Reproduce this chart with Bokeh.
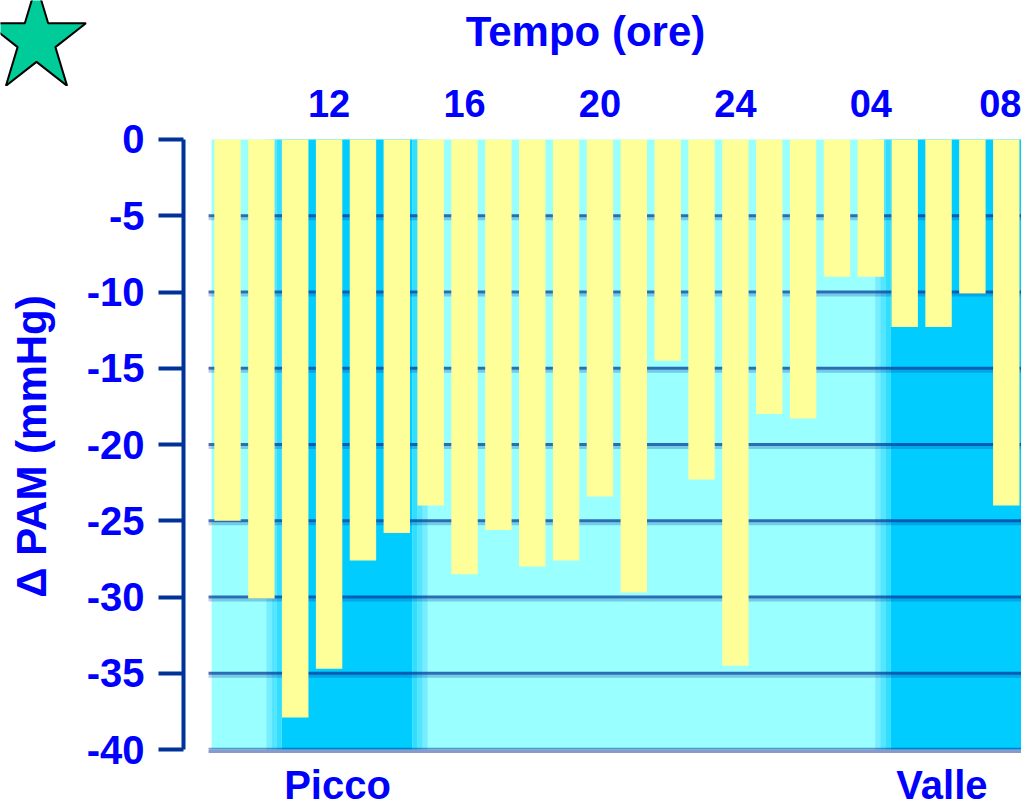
import math
from bokeh.plotting import figure
from bokeh.layouts import column
from bokeh.models import FixedTicker, LinearAxis, Range1d, ColumnDataSource
from bokeh.core.properties import value
from bokeh.embed import file_html
from bokeh.resources import INLINE

# ---------------- data ----------------
hours = [9, 10, 11, 12, 13, 14, 15, 16, 17, 18, 19, 20, 21, 22, 23, 24,
         25, 26, 27, 28, 29, 30, 31, 32]
delta_pam = [-25.0, -30.1, -37.9, -34.7, -27.6, -25.8, -24.0, -28.5,
             -25.6, -28.0, -27.6, -23.4, -29.7, -14.5, -22.3, -34.5,
             -18.0, -18.3, -9.0, -9.0, -12.3, -12.3, -10.1, -24.0]
hour_ticks = [12, 16, 20, 24, 28, 32]
hour_tick_labels = ["12", "16", "20", "24", "04", "08"]
y_ticks = [0, -5, -10, -15, -20, -25, -30, -35, -40]
y_tick_labels = ["0", "-5", "-10", "-15", "-20", "-25", "-30", "-35", "-40"]
grid_levels = [-5, -10, -15, -20, -25, -30, -35]
y_floor = -40
picco_span = (10.6, 14.46)
valle_span = (28.58, 33.0)
region_label_x = [12.25, 30.1]
region_labels = ["Picco", "Valle"]
panel_start = 8.53
panel_end = 33.0
x_title = "Tempo (ore)"
y_title = "\u0394 PAM (mmHg)"

# ---------------- styles ----------------
FONT = "Liberation Sans"
BLUE = "#0000FF"
NAVY = "#003399"
LIGHT = "#99FFFF"
DARK = "#00CCFF"
BAR = "#FFFF99"
W, H = 1021, 809
TOP_H = 86        # header strip height
OVERLAP = 16      # main chart starts this many px above the strip's bottom

# ---------------- header strip (star + time title) ----------------
top = figure(width=W, height=TOP_H, x_range=Range1d(0, W), y_range=Range1d(TOP_H, 0),
             x_axis_location=None, y_axis_location=None,
             output_backend="svg", toolbar_location=None,
             min_border=0, min_border_left=0, min_border_right=0,
             min_border_top=0, min_border_bottom=0)
top.frame_align = False
top.outline_line_color = None
top.xgrid.visible = False
top.ygrid.visible = False

cx, cy, rx, ry, k = 36, 40, 52, 56, 0.382
sxs, sys_ = [], []
for i in range(10):
    ang = math.radians(90 - 36 * i)
    f = 1.0 if i % 2 == 0 else k
    sxs.append(cx + rx * f * math.cos(ang))
    sys_.append(cy - ry * f * math.sin(ang))
top.patch(sxs, sys_, fill_color="#00CC99", line_color="black", line_width=2)
top.text(x=[585], y=[31], text=[x_title], text_align="center", text_baseline="alphabetic",
         text_font=value(FONT), text_font_style="bold", text_font_size="42px",
         text_color=BLUE)

# ---------------- main chart ----------------
MH = H - TOP_H + OVERLAP
y0_px = 139 - (TOP_H - OVERLAP)          # pixel of value 0 inside main canvas
p = figure(width=W, height=MH,
           x_range=Range1d(7.70, 32.45), y_range=Range1d(-40.39, 0.131),
           x_axis_location="above", y_axis_location="left",
           output_backend="svg", toolbar_location=None,
           min_border_left=183, min_border_right=0,
           min_border_top=y0_px - 2, min_border_bottom=54)
p.frame_align = False
p.margin = (-OVERLAP, 0, 0, 0)
p.border_fill_alpha = 0
p.outline_line_color = None
p.xgrid.visible = False
p.ygrid.visible = False

# background panel
p.quad(left=[panel_start], right=[panel_end], bottom=[y_floor], top=[0],
       fill_color=LIGHT, line_color=None)

# dark regions with soft edges
steps = ["#77EEFF", "#55E5FF", "#33DDFF"]
edge = 0.15
for lo, hi in (picco_span, valle_span):
    p.quad(left=[lo], right=[hi], bottom=[y_floor], top=[0],
           fill_color=DARK, line_color=None)
    n = len(steps)
    for i, c in enumerate(steps):
        p.quad(left=[lo - (n - i) * edge], right=[lo - (n - i - 1) * edge],
               bottom=[y_floor], top=[0], fill_color=c, line_color=None)
        if hi < panel_end:
            p.quad(left=[hi + (n - i - 1) * edge], right=[hi + (n - i) * edge],
                   bottom=[y_floor], top=[0], fill_color=c, line_color=None)

# grid lines
gx0 = panel_start - 0.09
ng = len(grid_levels)
p.segment(x0=[gx0] * ng, x1=[panel_end] * ng,
          y0=[g - 0.19 for g in grid_levels], y1=[g - 0.19 for g in grid_levels],
          line_color=NAVY, line_alpha=0.25, line_width=3)
p.segment(x0=[gx0] * ng, x1=[panel_end] * ng, y0=grid_levels, y1=grid_levels,
          line_color=NAVY, line_alpha=0.72, line_width=3)
p.segment(x0=[gx0], x1=[panel_end], y0=[y_floor - 0.12], y1=[y_floor - 0.12],
          line_color="#8899CC", line_width=3)
p.segment(x0=[gx0], x1=[panel_end], y0=[y_floor + 0.05], y1=[y_floor + 0.05],
          line_color=NAVY, line_alpha=0.5, line_width=2)

# bars
src = ColumnDataSource(dict(x=hours, top=[0] * len(hours), bottom=delta_pam))
p.vbar(x="x", width=0.78, top="top", bottom="bottom", source=src,
       fill_color=BAR, line_color=None)

# top axis (hours)
xa = p.xaxis[0]
xa.ticker = FixedTicker(ticks=hour_ticks, minor_ticks=[])
xa.major_label_overrides = {t: s for t, s in zip(hour_ticks, hour_tick_labels)}
xa.axis_line_color = None
xa.major_tick_line_color = None
xa.minor_tick_line_color = None
xa.major_tick_out = 0
xa.major_tick_in = 0
xa.major_label_standoff = 21
xa.major_label_text_font = FONT
xa.major_label_text_font_style = "bold"
xa.major_label_text_font_size = "38px"
xa.major_label_text_color = BLUE

# left axis
ya = p.yaxis[0]
ya.ticker = FixedTicker(ticks=y_ticks, minor_ticks=[])
ya.major_label_overrides = {t: s for t, s in zip(y_ticks, y_tick_labels)}
ya.bounds = (y_floor, 0)
ya.axis_line_color = NAVY
ya.axis_line_width = 4
ya.major_tick_line_color = NAVY
ya.major_tick_line_width = 4
ya.major_tick_out = 25
ya.major_tick_in = 0
ya.minor_tick_line_color = None
ya.major_label_standoff = 14
ya.major_label_text_font = FONT
ya.major_label_text_font_style = "bold"
ya.major_label_text_font_size = "40px"
ya.major_label_text_color = BLUE
ya.axis_label = y_title
ya.axis_label_text_font = FONT
ya.axis_label_text_font_style = "bold"
ya.axis_label_text_font_size = "42px"
ya.axis_label_text_color = BLUE
ya.axis_label_standoff = 29

# bottom axis (peak / trough labels)
ba = LinearAxis(ticker=FixedTicker(ticks=region_label_x, minor_ticks=[]))
ba.major_label_overrides = {t: s for t, s in zip(region_label_x, region_labels)}
ba.axis_line_color = None
ba.major_tick_line_color = None
ba.minor_tick_line_color = None
ba.major_tick_out = 0
ba.major_tick_in = 0
ba.major_label_standoff = 7
ba.major_label_text_font = FONT
ba.major_label_text_font_style = "bold"
ba.major_label_text_font_size = "40px"
ba.major_label_text_color = BLUE
p.add_layout(ba, "below")

layout = column(top, p, spacing=0)
open("out.html", "w").write(file_html(layout, INLINE))
